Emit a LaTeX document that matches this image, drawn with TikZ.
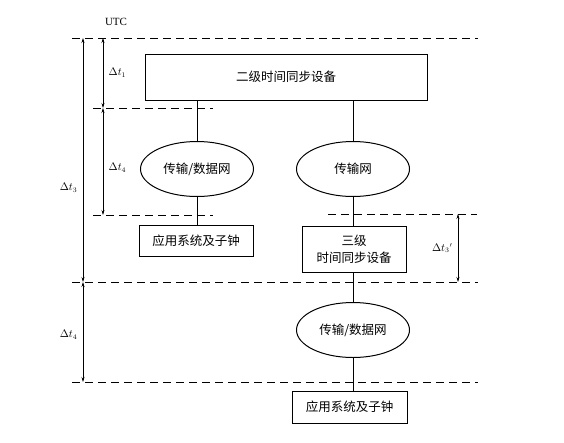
\documentclass[tikz,border=0pt]{standalone}
\usepackage{fontspec}
\setmainfont{Liberation Serif}
\newfontfamily\cjk{Noto Sans CJK SC}
\usetikzlibrary{arrows.meta,shapes.geometric}

\begin{document}
\begin{tikzpicture}[x=1pt,y=-1pt,
  box/.style={draw,line width=1pt,inner sep=1pt,font=\cjk\fontsize{12.5}{17}\selectfont},
  net/.style={draw,ellipse,line width=1pt,inner sep=1pt,minimum width=113pt,minimum height=55pt,font=\cjk\fontsize{12.5}{15}\selectfont},
  guide/.style={line width=1pt,dash pattern=on 8pt off 5pt},
  span/.style={line width=0.6pt,{Stealth[length=5pt,width=3pt]}-{Stealth[length=5pt,width=3pt]}},
  lbl/.style={font=\fontsize{10.5}{12}\selectfont}]
\useasboundingbox (0,0) rectangle (564,442);
\node (utc) at (116,22) {\fontsize{11}{13}\selectfont UTC};
% boxes and networks
\node[box,minimum width=282pt,minimum height=46pt] (sync2) at (286,77) {二级时间同步设备};
\node[net] (net1) at (197,169) {传输/数据网};
\node[net] (net2) at (353,169) {传输网};
\node[box,minimum width=114pt,minimum height=31pt] (app1) at (196,240.5) {应用系统及子钟};
\node[box,minimum width=104pt,minimum height=46pt,align=center] (sync3) at (354,249) {三级\\时间同步设备};
\node[net] (net3) at (353,330) {传输/数据网};
\node[box,minimum width=115pt,minimum height=32pt] (app2) at (349.5,407) {应用系统及子钟};
\draw[line width=0.6pt] (net1.north |- sync2.south) -- (net1.north);
\draw[line width=0.6pt] (net1.south) -- (net1.south |- app1.north);
\draw[line width=0.6pt] (net2.north |- sync2.south) -- (net2.north);
\draw[line width=0.6pt] (net2.south) -- (net2.south |- sync3.north);
\draw[line width=0.6pt] (net3.north |- sync3.south) -- (net3.north);
\draw[line width=0.6pt] (net3.south) -- (net3.south |- app2.north);
% time levels
\coordinate (a0) at (83,38);  \coordinate (a1) at (83,282); \coordinate (a2) at (83,382);
\coordinate (b0) at (103,38); \coordinate (b1) at (103,108); \coordinate (b2) at (103,215);
\coordinate (c0) at (458,214); \coordinate (c1) at (458,282);
\draw[guide] (72,38) -- (478,38);
\draw[guide] (93,108) -- (213,108);
\draw[guide] (93,215) -- (213,215);
\draw[guide] (328,214) -- (477,214);
\draw[guide] (72,282) -- (478,282);
\draw[guide] (72,382) -- (478,382);
\draw[span] (a0) -- (a1) node[lbl,pos=0.615,left=2pt] {$\Delta t_3$};
\draw[span] (a1) -- (a2) node[lbl,pos=0.53,left=2pt] {$\Delta t_4$};
\draw[span] (b0) -- (b1) node[lbl,midway,right=2pt] {$\Delta t_1$};
\draw[span] (b1) -- (b2) node[lbl,pos=0.56,right=2pt] {$\Delta t_4$};
\draw[span] (c0) -- (c1) node[lbl,midway,left=2pt] {$\Delta t_3{}'$};
\end{tikzpicture}
\end{document}
